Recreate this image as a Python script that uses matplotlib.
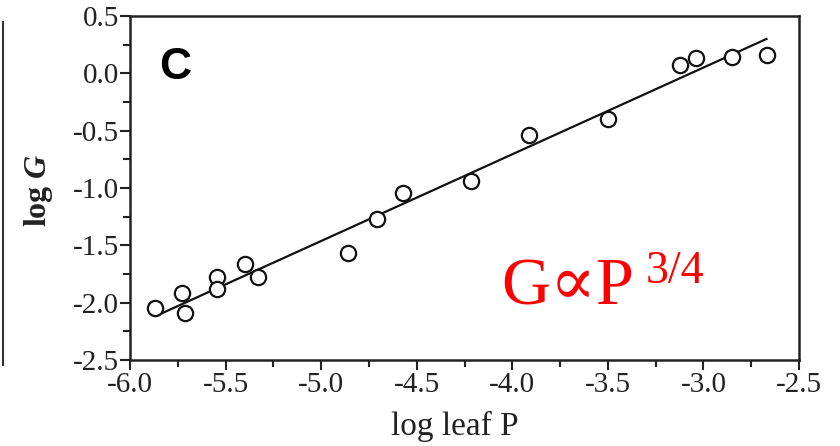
import matplotlib
matplotlib.use("Agg")
import matplotlib.pyplot as plt
from matplotlib.lines import Line2D
from matplotlib.ticker import MultipleLocator, FormatStrFormatter

plt.rcParams['axes.unicode_minus'] = False
plt.rcParams['mathtext.fontset'] = 'custom'
plt.rcParams['mathtext.rm'] = 'Liberation Serif'
plt.rcParams['mathtext.it'] = 'Liberation Serif:italic:bold'
plt.rcParams['mathtext.bf'] = 'Liberation Serif:bold'

# data (log leaf P, log G)
log_leaf_p = [-5.87, -5.73, -5.71, -5.545, -5.545, -5.40, -5.33, -4.86, -4.71,
              -4.57, -4.215, -3.915, -3.50, -3.12, -3.04, -2.85, -2.67]
log_g = [-2.05, -1.92, -2.09, -1.78, -1.88, -1.66, -1.78, -1.57, -1.27,
         -1.04, -0.94, -0.54, -0.40, 0.07, 0.13, 0.14, 0.16]
fit_x = [-5.83, -2.67]
fit_y = [-2.09, 0.30]

xlim = (-6.0, -2.5)
ylim = (-2.5, 0.5)
panel_label = "C"
xlabel = "log leaf P"
relation_main = "G\u221dP"
relation_exp = "3/4"

fig = plt.figure(figsize=(8.4, 4.46), dpi=100)
ax = fig.add_axes([130 / 840, 1 - 360 / 446, (799 - 130) / 840, (360 - 16) / 446])

ax.plot(fit_x, fit_y, color='#111111', lw=1.6, zorder=2)
ax.plot(log_leaf_p, log_g, linestyle='none', marker='o', markersize=11,
        markerfacecolor='white', markeredgecolor='#111111', markeredgewidth=1.6, zorder=3)

ax.set_xlim(*xlim)
ax.set_ylim(*ylim)
ax.xaxis.set_major_locator(MultipleLocator(0.5))
ax.xaxis.set_minor_locator(MultipleLocator(0.25))
ax.yaxis.set_major_locator(MultipleLocator(0.5))
ax.yaxis.set_minor_locator(MultipleLocator(0.25))
ax.xaxis.set_major_formatter(FormatStrFormatter('%.1f'))
ax.yaxis.set_major_formatter(FormatStrFormatter('%.1f'))
ax.tick_params(which='major', direction='out', length=7, width=1.5, color='#222222',
               labelsize=21, labelfontfamily='Liberation Serif', labelcolor='#222222')
ax.tick_params(which='minor', direction='out', length=5, width=1.5, color='#222222')
ax.tick_params(axis='y', which='major', pad=1)
ax.tick_params(axis='x', which='major', pad=2)
for s in ax.spines.values():
    s.set_linewidth(1.8)
    s.set_color('#222222')

ax.set_ylabel(r"log $\mathit{G}$", fontsize=23, fontfamily='Liberation Serif',
              fontweight='bold', color='#222222')
ax.yaxis.set_label_coords((55 - 130) / 669, (360 - 190) / 344)
fig.text(455 / 840, 1 - 411 / 446, xlabel, ha='center', va='top', fontsize=24,
         fontfamily='Liberation Serif', color='#222222')

ax.text(-5.85, 0.055, panel_label, fontsize=32, fontweight='bold',
        fontfamily='Liberation Sans', ha='left', va='center', color='black')

ax.text(-4.06, -2.02, relation_main, fontsize=49, color='#ff0000',
        fontfamily=['Liberation Serif', 'DejaVu Serif'], ha='left', va='baseline')
ax.text(-3.30, -1.83, relation_exp, fontsize=33, color='#ff0000',
        fontfamily='Liberation Serif', ha='left', va='baseline')

# fragment of the neighbouring panel at the left edge
fig.add_artist(Line2D([3 / 840, 3 / 840], [1 - 22 / 446, 1 - 365 / 446],
                      transform=fig.transFigure, color='#333333', lw=1.5))

fig.savefig("out.png", dpi=100)
